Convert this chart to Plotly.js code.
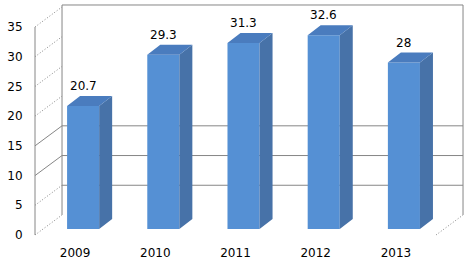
<!DOCTYPE html>
<html><head><meta charset="utf-8">
<script src="https://cdn.plot.ly/plotly-3.0.1.min.js"></script>
<style>html,body{margin:0;padding:0;background:#fff}#chart{width:474px;height:265px}</style>
</head><body><div id="chart"></div>
<script>
var years = ['2009', '2010', '2011', '2012', '2013'];
var values = [20.7, 29.3, 31.3, 32.6, 28];
var yTicks = [0, 5, 10, 15, 20, 25, 30, 35];
var backGridValues = [5, 10, 15];
var sideSolidValues = [10, 15];

// geometry (axis units)
var wallDX = 0.337, wallDY = 3.37;   // depth of the walls
var barShiftX = 0.1, barBase = 1.01; // bars sit a bit into the floor
var barW = 0.4, barDX = 0.162, barDY = 1.68; // bar depth
var yMax = 35, wallTop = 38.7;
var xLeft = -0.5, xRightFront = 4.5;

var cFront = '#5590D4', cSide = '#4772A8', cTop = '#4A7CBE';
var lineCol = '#868686';

var xs = years.map(function (_, i) { return i + barShiftX; });

var sideX = [], sideY = [], topX = [], topY = [];
xs.forEach(function (xc, i) {
  var v = values[i], xl = xc - barW / 2, xr = xc + barW / 2, b = barBase;
  sideX.push(xr, xr + barDX, xr + barDX, xr, xr, null);
  sideY.push(b, b + barDY, b + v + barDY, b + v, b, null);
  topX.push(xl, xr, xr + barDX, xl + barDX, xl, null);
  topY.push(b + v, b + v, b + v + barDY, b + v + barDY, b + v, null);
});

var traces = [
  {type: 'bar', x: xs, y: values, base: barBase, width: barW,
   marker: {color: cFront, line: {width: 0}}, hoverinfo: 'skip'},
  {type: 'scatter', mode: 'lines', x: sideX, y: sideY, fill: 'toself',
   fillcolor: cSide, line: {width: 0, color: cSide}, hoverinfo: 'skip'},
  {type: 'scatter', mode: 'lines', x: topX, y: topY, fill: 'toself',
   fillcolor: cTop, line: {width: 0, color: cTop}, hoverinfo: 'skip'}
];

var shapes = [];
function ln(x0, y0, x1, y1, dash) {
  shapes.push({type: 'line', xref: 'x', yref: 'y', x0: x0, y0: y0, x1: x1, y1: y1,
    layer: 'below', line: {color: lineCol, width: 1, dash: dash || 'solid'}});
}
var DOT = '1px,2px';
// back wall frame
var bx0 = xLeft + wallDX, bx1 = xRightFront + wallDX;
ln(bx0, wallDY, bx0, wallTop);
ln(bx0, wallTop, bx1, wallTop);
ln(bx1, wallDY, bx1, wallTop);
// back wall grid
backGridValues.forEach(function (v) { ln(bx0, v + wallDY, bx1, v + wallDY); });
// side wall diagonals
yTicks.forEach(function (v) {
  var solid = sideSolidValues.indexOf(v) >= 0;
  ln(xLeft, v, bx0, v + wallDY, solid ? 'solid' : DOT);
});
// floor right diagonal
ln(xRightFront, 0, bx1, wallDY, DOT);
// front value axis line
ln(xLeft, 0, xLeft, yMax);

var annotations = xs.map(function (xc, i) {
  return {x: xc, y: barBase + values[i] + barDY, xref: 'x', yref: 'y',
    text: String(values[i]), showarrow: false, yanchor: 'bottom', yshift: 1,
    font: {family: 'DejaVu Sans', size: 12, color: '#000'}};
});

var layout = {
  width: 474, height: 265,
  margin: {l: 30, r: 6, t: 0, b: 25, pad: 0},
  paper_bgcolor: '#fff', plot_bgcolor: 'rgba(0,0,0,0)',
  showlegend: false, hovermode: false,
  font: {family: 'DejaVu Sans', size: 12, color: '#000'},
  xaxis: {range: [-0.5623, 4.899], tickvals: [0, 1, 2, 3, 4], ticktext: years,
    showgrid: false, zeroline: false, showline: false,
    ticks: 'outside', ticklen: 2, tickcolor: 'rgba(0,0,0,0)',
    tickfont: {family: 'DejaVu Sans', size: 12, color: '#000'}},
  yaxis: {range: [-0.841, 39.54], tickvals: yTicks,
    showgrid: false, zeroline: false, showline: false,
    ticks: 'outside', ticklen: 4, tickcolor: 'rgba(0,0,0,0)',
    tickfont: {family: 'DejaVu Sans', size: 12, color: '#000'}},
  shapes: shapes,
  annotations: annotations
};

Plotly.newPlot('chart', traces, layout, {staticPlot: true, displayModeBar: false});
</script></body></html>
